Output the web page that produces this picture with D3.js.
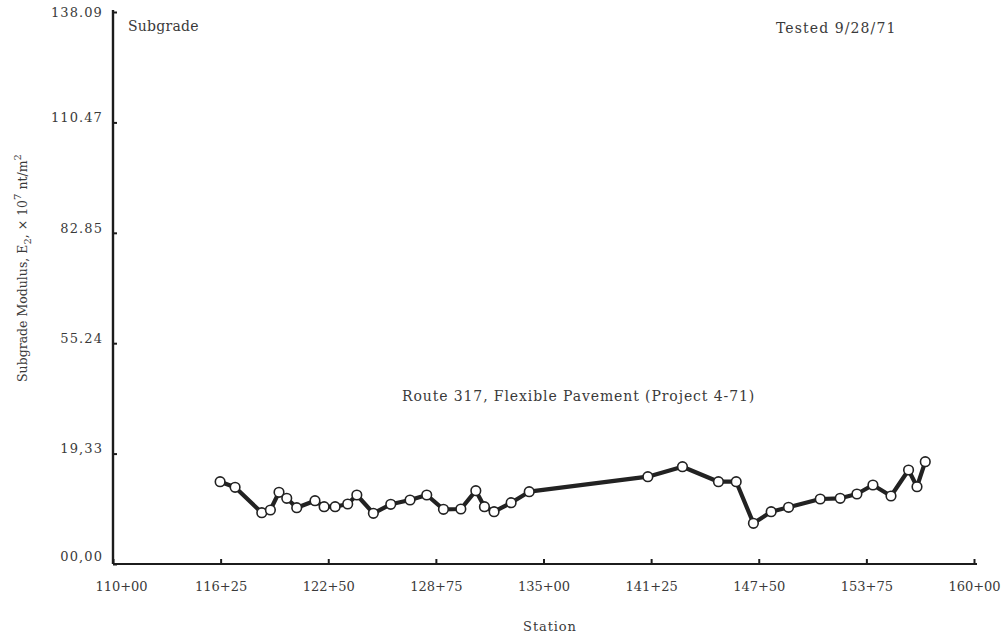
<!DOCTYPE html>
<html>
<head>
<meta charset="utf-8">
<script src="https://cdn.jsdelivr.net/npm/d3@7"></script>
<style>
  html, body { margin: 0; padding: 0; background: #fff; }
  svg { display: block; }
  text { font-family: "DejaVu Serif", "Liberation Serif", serif; fill: #3a3a3a; }
</style>
</head>
<body>
<svg id="chart" width="1002" height="643"></svg>
<script>
// ---- data ----
const stations = [116.22, 117.09, 118.64, 119.14, 119.64, 120.09, 120.67, 121.73, 122.26, 122.90,
  123.63, 124.16, 125.12, 126.13, 127.25, 128.22, 129.19, 130.20, 131.07, 131.57,
  132.13, 133.12, 134.17, 141.06, 143.07, 145.16, 146.19, 147.19, 148.22, 149.23,
  151.07, 152.23, 153.20, 154.13, 155.18, 156.20, 156.69, 157.17];
const modulus = [20.59, 19.19, 12.83, 13.51, 17.94, 16.44, 14.08, 15.84, 14.33, 14.33,
  15.01, 17.26, 12.68, 14.93, 16.01, 17.26, 13.68, 13.76, 18.34, 14.33,
  13.08, 15.33, 18.09, 21.84, 24.34, 20.59, 20.59, 10.18, 13.08, 14.18,
  16.26, 16.44, 17.51, 19.76, 17.01, 23.52, 19.34, 25.59];
const xTickValues = [110, 116.25, 122.5, 128.75, 135, 141.25, 147.5, 153.75, 160];
const xTickLabels = ["110+00", "116+25", "122+50", "128+75", "135+00", "141+25", "147+50", "153+75", "160+00"];
const yTickValues = [0, 27.62, 55.24, 82.85, 110.47, 138.09];
const yTickLabels = ["00,00", "19,33", "55.24", "82.85", "110.47", "138.09"];

const svg = d3.select("#chart");
const x = d3.scaleLinear().domain([110, 160]).range([113, 974]);
const y = d3.scaleLinear().domain([0, 138.09]).range([564, 12]);
const ink = "#1c1c1c";

// axes lines
svg.append("line").attr("x1", x(110)).attr("x2", x(160) + 3)
  .attr("y1", y(0)).attr("y2", y(0)).attr("stroke", ink).attr("stroke-width", 2.2);
svg.append("line").attr("x1", x(110)).attr("x2", x(110))
  .attr("y1", y(0)).attr("y2", y(138.09) - 2).attr("stroke", ink).attr("stroke-width", 2.4);

// x axis
const xAxis = d3.axisBottom(x).tickValues(xTickValues)
  .tickFormat((d, i) => xTickLabels[i]).tickSizeInner(-5).tickSizeOuter(0).tickPadding(18);
const gx = svg.append("g").attr("transform", `translate(0,${y(0)})`).call(xAxis);
gx.select(".domain").remove();
gx.selectAll(".tick line").attr("stroke", ink).attr("stroke-width", 2);
gx.selectAll(".tick text").style("font-size", "13px").style("letter-spacing", "0px")
  .style("font-family", "DejaVu Serif").attr("fill", "#3a3a3a")
  .attr("dx", (d, i) => i === 0 ? 8 : 0);

// y axis
const yAxis = d3.axisLeft(y).tickValues(yTickValues)
  .tickFormat((d, i) => yTickLabels[i]).tickSizeInner(-4).tickSizeOuter(0).tickPadding(10);
const gy = svg.append("g").attr("transform", `translate(${x(110)},0)`).call(yAxis);
gy.select(".domain").remove();
gy.selectAll(".tick line").attr("stroke", ink).attr("stroke-width", 2);
gy.selectAll(".tick text").style("font-size", "13px").style("letter-spacing", "1.1px")
  .style("font-family", "DejaVu Serif").attr("fill", "#3a3a3a")
  .attr("dy", (d, i) => i === yTickValues.length - 1 ? "0.32em" : (i === 0 ? "-0.25em" : "-0.05em"));

// line
const line = d3.line().x((d, i) => x(stations[i])).y((d, i) => y(modulus[i]));
svg.append("path").datum(modulus).attr("d", line)
  .attr("fill", "none").attr("stroke", "#222").attr("stroke-width", 4.2)
  .attr("stroke-linejoin", "round");
svg.append("g").selectAll("circle").data(modulus).join("circle")
  .attr("cx", (d, i) => x(stations[i])).attr("cy", d => y(d)).attr("r", 4.8)
  .attr("fill", "#fff").attr("stroke", "#222").attr("stroke-width", 1.6);

// texts
svg.append("text").attr("x", 128).attr("y", 31).style("font-size", "14px")
  .style("letter-spacing", "0.25px").text("Subgrade");
svg.append("text").attr("x", 776).attr("y", 33).style("font-size", "14px")
  .style("letter-spacing", "1.1px").text("Tested 9/28/71");
svg.append("text").attr("x", 402).attr("y", 401).style("font-size", "14px")
  .style("letter-spacing", "0.9px").text("Route 317, Flexible Pavement (Project 4-71)");
svg.append("text").attr("x", 550).attr("y", 631).attr("text-anchor", "middle")
  .style("font-size", "13px").style("letter-spacing", "0.9px").text("Station");

const yt = svg.append("text").attr("transform", "translate(27,268) rotate(-90)")
  .attr("text-anchor", "middle").style("font-size", "12.5px").style("letter-spacing", "0px");
yt.append("tspan").text("Subgrade Modulus, E");
yt.append("tspan").attr("dy", "4").style("font-size", "10px").text("2");
yt.append("tspan").attr("dy", "-4").text(", \u00d7 10");
yt.append("tspan").attr("dy", "-6").style("font-size", "10px").text("7");
yt.append("tspan").attr("dy", "6").text(" nt/m");
yt.append("tspan").attr("dy", "-6").style("font-size", "10px").text("2");
</script>
</body>
</html>
